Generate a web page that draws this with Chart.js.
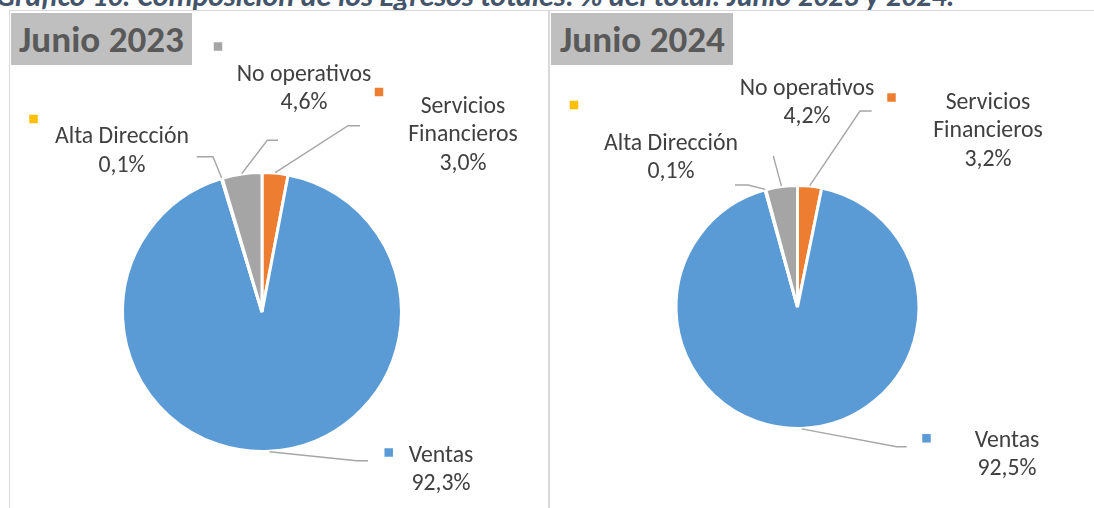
<!DOCTYPE html>
<html><head><meta charset="utf-8">
<script src="https://cdn.jsdelivr.net/npm/chart.js@4.4.1/dist/chart.umd.min.js"></script>
<style>
html,body{margin:0;padding:0;background:#fff;width:1094px;height:508px;overflow:hidden;position:relative;}
.panel{position:absolute;border:1px solid #d9d9d9;box-sizing:border-box;}
#p1{left:9px;top:10px;width:540px;height:530px;}
#p2{left:549px;top:10px;width:570px;height:530px;}
.hdr{position:absolute;background:#bfbfbf;z-index:3;}
.txt{position:absolute;white-space:nowrap;margin:0;padding:0;}
canvas{position:absolute;}
</style></head>
<body>
<div class="txt" id="title"></div>
<div class="panel" id="p1"></div>
<div class="panel" id="p2"></div>
<div class="hdr" id="h1" style="left:11px;top:13px;width:181px;height:52px"></div>
<div class="hdr" id="h2" style="left:551px;top:13px;width:182px;height:52px"></div>
<div class="txt" id="ht1" style="z-index:4"></div>
<div class="txt" id="ht2" style="z-index:4"></div>
<canvas id="c1" width="538" height="497" style="left:10px;top:11px"></canvas>
<canvas id="c2" width="544" height="497" style="left:550px;top:11px"></canvas>
<script>
// ---- data ----
const chartTitle = 'Gráfico 10. Composición de los Egresos totales: % del total. Junio 2023 y 2024.';
const panelTitles = ['Junio 2023', 'Junio 2024'];
const categories = ['Servicios Financieros', 'Ventas', 'Alta Dirección', 'No operativos'];
const values2023 = [3.0, 92.3, 0.1, 4.6];
const values2024 = [3.2, 92.5, 0.1, 4.2];

// ---- styles ----
const sliceColors = ['#ED7D31', '#5B9BD5', '#FFC000', '#A5A5A5'];
const FONT = 'Carlito, Lato, "Open Sans", sans-serif';
const mctx = document.createElement('canvas').getContext('2d');
function fitSize(text, style, target) {
  mctx.font = style + ' 100px ' + FONT;
  return 100 * target / mctx.measureText(text).width;
}
function metrics(style, size) {
  mctx.font = style + ' ' + size + 'px ' + FONT;
  const m = mctx.measureText('Hg');
  return {asc: m.fontBoundingBoxAscent, desc: m.fontBoundingBoxDescent};
}
function placeText(el, text, style, size, color, left, baseline) {
  const mt = metrics(style, size);
  el.textContent = text;
  el.style.font = style + ' ' + size + 'px ' + FONT;
  el.style.lineHeight = (mt.asc + mt.desc) + 'px';
  el.style.color = color;
  el.style.left = left + 'px';
  el.style.top = (baseline - mt.asc) + 'px';
}
const titleSize = fitSize(chartTitle, 'italic bold', 959);
placeText(document.getElementById('title'), chartTitle, 'italic bold', titleSize, '#44546A', -4, 6);
const hdrSize = fitSize(panelTitles[0], 'bold', 165);
placeText(document.getElementById('ht1'), panelTitles[0], 'bold', hdrSize, '#595959', 19, 52);
placeText(document.getElementById('ht2'), panelTitles[1], 'bold', hdrSize, '#595959', 560, 52);

const labelSize = fitSize('Alta Dirección', 'normal', 134);
const LINE = 28.4;
const fmt = v => v.toFixed(1).replace('.', ',') + '%';

// ---- layout (page coordinates) ----
const layouts = [
  {
    canvas: {left: 10, top: 11, w: 538, h: 497}, cx: 262, cy: 312, r: 138,
    labels: [
      {cx: 463, y: 113, wrap: true, leader: [[348, 125.7], [360, 125.7]]},
      {cx: 441, y: 461.7, leader: [[356.7, 460.7], [368, 460.7]]},
      {cx: 122, y: 143.3, leader: [[213, 156.7], [196.7, 156.7]]},
      {cx: 304, y: 80.7, leader: [[267.3, 140.3], [278, 140.3]]}
    ],
    markers: [{i: 3, x: 218, y: 46.5}, {i: 0, x: 379, y: 92}, {i: 2, x: 33.5, y: 119}, {i: 1, x: 388.7, y: 452.5}]
  },
  {
    canvas: {left: 550, top: 11, w: 544, h: 497}, cx: 797.5, cy: 307, r: 120,
    labels: [
      {cx: 988, y: 109, wrap: true, leader: [[860, 111], [871.7, 111]]},
      {cx: 1007, y: 446.7, leader: [[896.7, 446.7], [906.7, 446.7]]},
      {cx: 671, y: 150, leader: [[748, 185], [735, 185]]},
      {cx: 807, y: 95, leader: [[773.3, 156]]}
    ],
    markers: [{i: 0, x: 891.5, y: 97.5}, {i: 2, x: 574, y: 105}, {i: 1, x: 926.5, y: 438.3}]
  }
];

function labelPlugin(L) {
  const ox = L.canvas.left, oy = L.canvas.top;
  return {
    id: 'sliceLabels',
    afterDatasetsDraw(chart) {
      const ctx = chart.ctx;
      const meta = chart.getDatasetMeta(0);
      const vals = chart.data.datasets[0].data;
      ctx.save();
      // leaders
      ctx.strokeStyle = '#A6A6A6';
      ctx.lineWidth = 1.4;
      meta.data.forEach((arc, i) => {
        const lab = L.labels[i];
        const p = arc.getProps(['x', 'y', 'startAngle', 'endAngle', 'outerRadius'], true);
        const a = (p.startAngle + p.endAngle) / 2;
        const rr = L.r + 2;
        ctx.beginPath();
        ctx.moveTo(p.x + Math.cos(a) * rr, p.y + Math.sin(a) * rr);
        lab.leader.forEach(pt => ctx.lineTo(pt[0] - ox, pt[1] - oy));
        ctx.stroke();
      });
      // texts
      ctx.fillStyle = '#404040';
      ctx.font = labelSize + 'px ' + FONT;
      ctx.textAlign = 'center';
      ctx.textBaseline = 'alphabetic';
      L.labels.forEach((lab, i) => {
        const lines = lab.wrap ? categories[i].split(' ') : [categories[i]];
        lines.push(fmt(vals[i]));
        lines.forEach((t, k) => ctx.fillText(t, lab.cx - ox, lab.y - oy + k * LINE));
      });
      // legend-key markers
      L.markers.forEach(m => {
        ctx.fillStyle = sliceColors[m.i];
        ctx.fillRect(m.x - ox - 4.25, m.y - oy - 4.25, 8.5, 8.5);
      });
      ctx.restore();
    }
  };
}

function makeChart(id, values, L) {
  const ccx = L.cx - L.canvas.left, ccy = L.cy - L.canvas.top;
  const dx = 2 * ccx - L.canvas.w, dy = 2 * ccy - L.canvas.h;
  return new Chart(document.getElementById(id), {
    type: 'pie',
    data: {
      labels: categories,
      datasets: [{
        data: values,
        backgroundColor: sliceColors,
        borderColor: '#ffffff',
        borderWidth: 3,
        radius: L.r + 1.5,
        hoverOffset: 0
      }]
    },
    options: {
      responsive: false,
      animation: false,
      events: [],
      layout: {padding: {left: Math.max(dx, 0), right: Math.max(-dx, 0), top: Math.max(dy, 0), bottom: Math.max(-dy, 0)}},
      plugins: {legend: {display: false}, tooltip: {enabled: false}, title: {display: false}}
    },
    plugins: [labelPlugin(L)]
  });
}
makeChart('c1', values2023, layouts[0]);
makeChart('c2', values2024, layouts[1]);
</script>
</body></html>
